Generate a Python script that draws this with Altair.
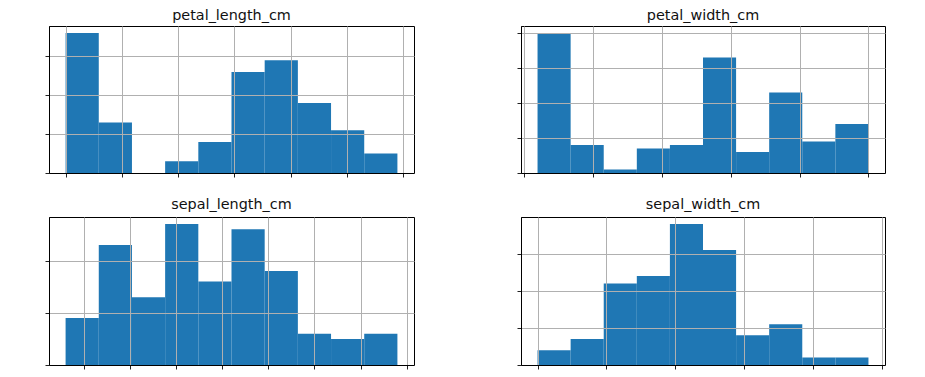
import altair as alt
import pandas as pd

# Histogram bin edges and counts (10 bins each)
petal_length_edges = [1.0, 1.59, 2.18, 2.77, 3.36, 3.95, 4.54, 5.13, 5.72, 6.31, 6.9]
petal_length_counts = [36, 13, 0, 3, 8, 26, 29, 18, 11, 5]

petal_width_edges = [0.1, 0.34, 0.58, 0.82, 1.06, 1.3, 1.54, 1.78, 2.02, 2.26, 2.5]
petal_width_counts = [40, 8, 1, 7, 8, 33, 6, 23, 9, 14]

sepal_length_edges = [4.3, 4.66, 5.02, 5.38, 5.74, 6.1, 6.46, 6.82, 7.18, 7.54, 7.9]
sepal_length_counts = [9, 23, 13, 27, 16, 26, 18, 6, 5, 6]

sepal_width_edges = [2.0, 2.24, 2.48, 2.72, 2.96, 3.2, 3.44, 3.68, 3.92, 4.16, 4.4]
sepal_width_counts = [4, 7, 22, 24, 38, 31, 8, 11, 2, 2]

petal_length_xticks = [1, 2, 3, 4, 5, 6, 7]
petal_width_xticks = [0.0, 0.5, 1.0, 1.5, 2.0, 2.5]
sepal_length_xticks = [4.5, 5.0, 5.5, 6.0, 6.5, 7.0, 7.5, 8.0]
sepal_width_xticks = [2.0, 2.5, 3.0, 3.5, 4.0, 4.5]

petal_length_yticks = [0, 10, 20, 30]
petal_width_yticks = [0, 10, 20, 30, 40]
sepal_length_yticks = [0, 10, 20]
sepal_width_yticks = [0, 10, 20, 30, 40]

BAR = "#1f77b4"


def panel(name, edges, counts, xticks, yticks, title_offset, width, height):
    df = pd.DataFrame({"bin_start": edges[:-1], "bin_end": edges[1:], "count": counts})
    span = edges[-1] - edges[0]
    xdom = [edges[0] - 0.05 * span, edges[-1] + 0.05 * span]
    ymax = max(counts) * 1.05
    ax = dict(labels=False, ticks=True, tickSize=4, tickColor="#222222", tickWidth=1,
              domain=True, domainColor="#000000", domainWidth=1,
              grid=True, gridColor="#b0b0b0", gridWidth=1, zindex=1, title=None)
    return alt.Chart(
        df,
        title=alt.Title(name, offset=title_offset, baseline="alphabetic", fontSize=14.4,
                        font="DejaVu Sans", fontWeight="normal", color="#111111"),
    ).mark_rect(color=BAR).encode(
        x=alt.X("bin_start:Q", scale=alt.Scale(domain=xdom, nice=False, zero=False),
                axis=alt.Axis(values=xticks, **ax)),
        x2="bin_end:Q",
        y=alt.Y("count:Q", scale=alt.Scale(domain=[0, ymax], nice=False),
                axis=alt.Axis(values=yticks, **ax)),
        y2=alt.datum(0),
    ).properties(width=width, height=height)


a = panel("petal_length_cm", petal_length_edges, petal_length_counts,
          petal_length_xticks, petal_length_yticks, -8.5, 365, 147)
b = panel("petal_width_cm", petal_width_edges, petal_width_counts,
          petal_width_xticks, petal_width_yticks, -8.5, 364, 147)
c = panel("sepal_length_cm", sepal_length_edges, sepal_length_counts,
          sepal_length_xticks, sepal_length_yticks, -6, 365, 148)
d = panel("sepal_width_cm", sepal_width_edges, sepal_width_counts,
          sepal_width_xticks, sepal_width_yticks, -6, 364, 148)

chart = alt.vconcat(
    alt.hconcat(a, b, spacing=101),
    alt.hconcat(c, d, spacing=101),
    spacing=18,
).properties(
    padding={"left": 36, "top": -1, "right": 5, "bottom": 5}
).configure(
    background="white"
).configure_view(
    stroke="#000000", strokeWidth=1
)

chart.save("out.html", embed_options={"renderer": "svg", "actions": False})
